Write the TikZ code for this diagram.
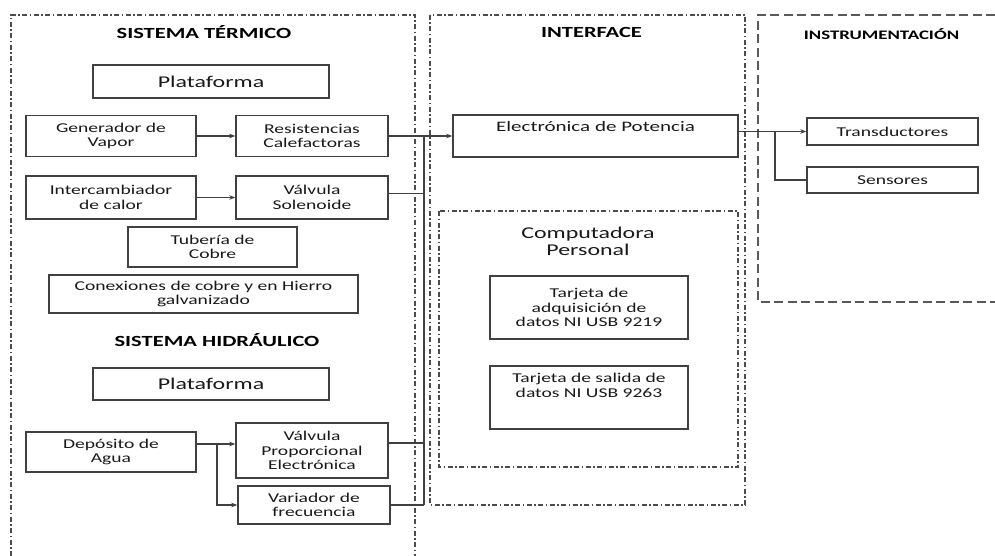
\documentclass[tikz,border=0pt]{standalone}
\usepackage{fontspec}
\setmainfont{Carlito}[FakeStretch=1.45]
\usetikzlibrary{arrows.meta,positioning,calc}

\begin{document}
\begin{tikzpicture}[x=1pt,y=-1pt,
  box/.style={draw=black!75,line width=1.4pt,text=black!90,font=\fontsize{13.5}{14.5}\selectfont,align=center,inner sep=0pt},
  heading/.style={font=\fontsize{15.5}{17}\selectfont\bfseries,text=black},
  zone/.style={draw=black!70,line width=1.1pt,dash pattern=on 5pt off 2.5pt on 1.5pt off 2.5pt},
  instzone/.style={draw=black!65,line width=1.6pt,dash pattern=on 9pt off 4.5pt},
  arr/.style={-{Stealth[length=6pt,width=4.5pt]},line width=1.1pt,black!75},
  link/.style={line width=1.1pt,black!75}]
  \useasboundingbox (0,0) rectangle (995,556);
  % frames
  \draw[zone] (11,556) -- (11,15) -- (415,15) -- (415,556);
  \draw[zone] (430,15) rectangle (745,505);
  \draw[zone] (439,211) rectangle (738,467);
  \draw[instzone] (995,15) -- (758,15) -- (758,302) -- (995,302);
  % sistema termico
  \node[heading] (tterm) at (204,32) {SISTEMA TÉRMICO};
  \node[box,minimum width=236pt,minimum height=33pt,font=\fontsize{16.5}{18}\selectfont] (tplat) at (211,81.5) {Plataforma};
  \node[box,minimum width=170pt,minimum height=41pt] (gen) at (111,136) {Generador de\\Vapor};
  \node[box,minimum width=152pt,minimum height=41pt] (res) at (312,136) {Resistencias\\Calefactoras};
  \node[box,minimum width=170pt,minimum height=43pt] (inter) at (111,197.5) {Intercambiador\\de calor};
  \node[box,minimum width=152pt,minimum height=43pt] (sol) at (312,197.5) {Válvula\\Solenoide};
  \node[box,minimum width=169pt,minimum height=40pt] (tub) at (212.5,247) {Tubería de\\Cobre};
  \node[box,minimum width=309pt,minimum height=38pt] (con) at (203.5,294) {Conexiones de cobre y en Hierro\\galvanizado};
  % sistema hidraulico
  \node[heading] (thid) at (217,340) {SISTEMA HIDRÁULICO};
  \node[box,minimum width=236pt,minimum height=32pt,font=\fontsize{16.5}{18}\selectfont] (hplat) at (211,384) {Plataforma};
  \node[box,minimum width=170pt,minimum height=40pt] (dep) at (111,452) {Depósito de\\Agua};
  \node[box,minimum width=152pt,minimum height=55pt] (vprop) at (312,450.5) {Válvula\\Proporcional\\Electrónica};
  \node[box,minimum width=152pt,minimum height=38pt] (var) at (314,505) {Variador de\\frecuencia};
  % interface
  \node[heading] (tint) at (591.5,32) {INTERFACE};
  \node[box,minimum width=285pt,minimum height=42pt,text depth=20pt,font=\fontsize{14.5}{16}\selectfont] (elec) at (595.5,136) {Electrónica de Potencia};
  \node[text=black!90,align=center,font=\fontsize{16.5}{17}\selectfont] (comp) at (588,241.5) {Computadora\\Personal};
  \node[box,minimum width=198pt,minimum height=63pt] (adq) at (589,307.5) {Tarjeta de\\adquisición de\\datos NI USB 9219};
  \node[box,minimum width=198pt,minimum height=63pt,text depth=24pt] (sal) at (589,397.5) {Tarjeta de salida de\\datos NI USB 9263};
  % instrumentacion
  \node[heading,font=\fontsize{13}{15}\selectfont\bfseries] (tins) at (881.5,34) {INSTRUMENTACIÓN};
  \node[box,minimum width=171pt,minimum height=27pt] (trans) at (892.5,131.5) {Transductores};
  \node[box,minimum width=171pt,minimum height=26pt] (sens) at (892.5,180) {Sensores};
  % connectors
  \draw[arr] (gen) -- (res);
  \draw[arr] (inter) -- (sol);
  \coordinate (hj) at (217,444);
  \draw[link] (dep.east |- hj) -- (hj);
  \draw[arr] (hj) -- (vprop.west |- hj);
  \draw[arr] (hj) |- (var.west);
  \coordinate (bus) at (424,136);
  \coordinate (vs) at ([yshift=4pt]sol.east);
  \coordinate (vp) at ([yshift=7.5pt]vprop.east);
  \draw[arr] (res.east) -- (elec.west |- res.east);
  \draw[link] (vs) -- (vs -| bus);
  \draw[link] (vp) -- (vp -| bus);
  \draw[link] (var.east) -- (var.east -| bus);
  \draw[link] (bus) -- (bus |- var.east);
  \coordinate (ij) at (775,131.5);
  \draw[link] (elec.east |- ij) -- (ij);
  \draw[arr] (ij) -- (trans);
  \draw[link] (ij) |- (sens);
\end{tikzpicture}
\end{document}
